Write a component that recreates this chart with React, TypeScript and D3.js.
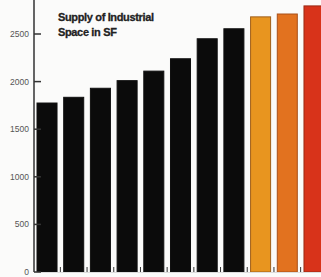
import React from "react";
import * as d3 from "d3";

const categories = ["1", "2", "3", "4", "5", "6", "7", "8", "9", "10", "11"];
const values = [1775, 1835, 1930, 2010, 2110, 2240, 2450, 2555, 2680, 2710, 2795];
const barColors = ["#0b0b0b", "#0b0b0b", "#0b0b0b", "#0b0b0b", "#0b0b0b", "#0b0b0b", "#0b0b0b", "#0b0b0b", "#e8951f", "#e2721f", "#d8331a"];
const strokeColors = ["#111", "#111", "#111", "#111", "#111", "#111", "#111", "#111", "#a0601a", "#a8501a", "#9a2a14"];
const yTicks = [0, 500, 1000, 1500, 2000, 2500];
const titleLines = ["Supply of Industrial", "Space in SF"];

export default function App() {
  const W = 321, H = 277;
  const axisX = 34;
  const y = d3.scaleLinear().domain([0, 2500]).range([272, 34]);
  const x = d3.scaleBand<string>().domain(categories).range([37, 324]).paddingInner(0.25).paddingOuter(0);
  const step = x.step();
  return (
    <svg width={W} height={H} style={{ position: "fixed", left: 0, top: 0, background: "#fbfbfa" }}>
      <rect x={0} y={0} width={W} height={H} fill="#fbfbfa" />
      {categories.map((c, i) => (
        <rect key={c} x={x(c)} y={y(values[i])} width={x.bandwidth()} height={y(0) - y(values[i])}
          fill={barColors[i]} stroke={strokeColors[i]} strokeWidth={1} />
      ))}
      {categories.slice(0, -1).map((c) => {
        const tx = (x(c) as number) + x.bandwidth() + (step - x.bandwidth()) / 2;
        return <line key={"t" + c} x1={tx} x2={tx} y1={y(0)} y2={y(0) - 5} stroke="#333" strokeWidth={1} />;
      })}
      <line x1={axisX} x2={axisX} y1={0} y2={y(0)} stroke="#333" strokeWidth={1.5} />
      <line x1={axisX} x2={W} y1={y(0) + 0.5} y2={y(0) + 0.5} stroke="#ddd" strokeWidth={1} />
      {yTicks.map((t) => (
        <g key={t}>
          <line x1={axisX} x2={axisX + 7} y1={y(t)} y2={y(t)} stroke="#333" strokeWidth={1.5} />
          <text x={29} y={y(t)} dy="0.35em" textAnchor="end" fontFamily="Liberation Sans, Arial, sans-serif" fontSize={8.5} fill="#555">{t}</text>
        </g>
      ))}
      <g fontFamily="Liberation Sans, Arial, sans-serif" fontWeight="bold" fontSize={11} fill="#222" letterSpacing={-0.35}
        stroke="#222" strokeWidth={0.3}>
        {titleLines.map((l, i) => (
          <text key={l} x={58} y={21 + i * 15}>{l}</text>
        ))}
      </g>
    </svg>
  );
}
